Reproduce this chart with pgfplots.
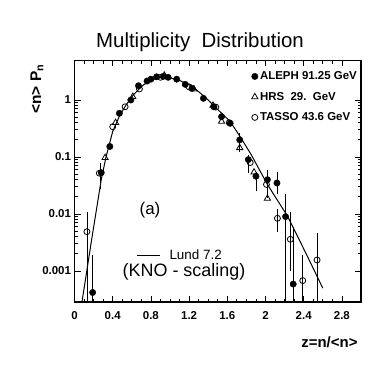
\documentclass[border=0pt]{standalone}
\usepackage{fontspec}
\setmainfont{Liberation Sans}
\usepackage{pgfplots}
\pgfplotsset{compat=1.18}

\begin{document}
\begin{tikzpicture}[x=1bp,y=1bp]
\path[use as bounding box] (0,0) rectangle (382,365);
\begin{axis}[
    at={(74.5bp,63bp)}, anchor=south west,
    scale only axis, width=286.5bp, height=241.5bp,
    ymode=log,
    xmin=0, xmax=3.0, ymin=2.86e-4, ymax=4.93,
    xtick={0,0.4,0.8,1.2,1.6,2,2.4,2.8},
    xticklabels={0,0.4,0.8,1.2,1.6,2,2.4,2.8},
    minor x tick num=3,
    ytick={0.001,0.01,0.1,1},
    yticklabels={0.001,0.01,0.1,1},
    tick align=inside,
    major tick length=6bp, minor tick length=3bp,
    xtick pos=both, ytick pos=both,
    every tick/.style={black, line width=0.8pt},
    axis line style={line width=1.3pt},
    tick label style={font=\bfseries\fontsize{11.5}{13}\selectfont},
    /pgf/number format/assume math mode=true,
    xticklabel style={yshift=-6bp},
    legend style={at={(rel axis cs:1,1)}, anchor=north east, draw=none, fill=none,
        font=\bfseries\fontsize{11.5}{13}\selectfont, row sep=7bp,
        xshift=-1bp, yshift=-8bp, inner sep=1bp},
    legend cell align=left,
    legend image code/.code={\draw[#1] plot coordinates {(0bp,0bp)};},
    clip=true,
]
% Lund 7.2 curve
\addplot[black, line width=1pt, forget plot] coordinates {
(0.08,0.0003)(0.18,0.0036)(0.28,0.04)(0.33,0.1)(0.40,0.28)(0.47,0.52)
(0.54,0.82)(0.62,1.25)(0.72,1.83)(0.82,2.3)(0.92,2.5)(1.0,2.45)(1.1,2.2)
(1.2,1.85)(1.3,1.4)(1.4,1.0)(1.5,0.68)(1.63,0.42)(1.74,0.22)(1.85,0.11)
(2.02,0.033)(2.23,0.0092)(2.42,0.0021)(2.6,0.0005)
};
% error bars
\addplot[black, line width=0.7pt, unbounded coords=jump, forget plot] coordinates {
(0.13,1e-4)(0.13,0.0107)(0.13,nan)
(0.19,1e-4)(0.19,0.0019)(0.19,nan)
(0.27,0.027)(0.27,0.08)(0.27,nan)
(1.73,0.12)(1.73,0.26)(1.73,nan)
(1.82,0.053)(1.82,0.11)(1.82,nan)
(1.90,0.025)(1.90,0.055)(1.90,nan)
(2.02,0.019)(2.02,0.06)(2.02,nan)
(2.12,0.022)(2.12,0.055)(2.12,nan)
(2.125,0.0048)(2.125,0.012)(2.125,nan)
(2.21,1e-4)(2.21,0.022)(2.21,nan)
(2.26,0.001)(2.26,0.011)(2.26,nan)
(2.29,1e-4)(2.29,0.0058)(2.29,nan)
(2.39,1e-4)(2.39,0.0019)(2.39,nan)
(2.54,1e-4)(2.54,0.0046)(2.54,nan)
};
% ALEPH
\addplot[only marks, mark=*, mark size=3.2bp, black] coordinates {
(0.19,0.00042)(0.28,0.053)(0.37,0.153)(0.47,0.585)(0.59,1.0)(0.67,1.78)
(0.76,2.15)(0.80,2.32)(0.86,2.55)(0.93,2.6)(0.98,2.5)(1.07,2.32)(1.16,1.88)
(1.23,1.6)(1.35,1.07)(1.46,0.76)(1.54,0.51)(1.63,0.39)(1.73,0.2)(1.82,0.09)
(1.90,0.046)(2.02,0.040)(2.12,0.035)(2.21,0.009)(2.29,0.00059)
};
\addlegendentry{ALEPH 91.25 GeV}
% HRS
\addplot[only marks, mark=triangle, mark size=3.6bp, black, mark options={fill=white, line width=0.8pt}] coordinates {
(0.32,0.097)(0.43,0.40)(0.61,1.14)(0.94,2.7)(1.25,1.55)(1.45,0.80)
(1.54,0.42)(1.73,0.145)(1.88,0.054)(2.02,0.0187)
};
\addlegendentry{HRS\ \ 29.\ \ GeV}
% TASSO
\addplot[only marks, mark=o, mark size=3bp, black, mark options={fill=white, line width=0.8pt}] coordinates {
(0.13,0.0049)(0.26,0.052)(0.40,0.34)(0.53,0.76)(0.68,1.56)(0.90,2.5)
(1.2,1.7)(1.48,0.75)(1.62,0.4)(1.84,0.08)(2.01,0.033)(2.125,0.0084)
(2.26,0.0036)(2.39,0.00068)(2.54,0.00156)
};
\addlegendentry{TASSO 43.6 GeV}
\end{axis}
% texts
\node[font=\fontsize{20.5}{22}\selectfont] at (200,323) {Multiplicity\ \ Distribution};
\node[rotate=90, font=\bfseries\fontsize{15.5}{17}\selectfont] at (37,276) {<n> P\textsubscript{n}};
\node[font=\fontsize{17}{19}\selectfont] at (150,155) {(a)};
\draw[line width=0.9pt] (137,110) -- (160,110);
\node[anchor=west, font=\fontsize{13.5}{15}\selectfont] at (166,110) {Lund 7.2};
\node[font=\fontsize{18}{20}\selectfont] at (184,93) {(KNO - scaling)};
\node[anchor=east, font=\bfseries\fontsize{15}{17}\selectfont] at (361,23) {z=n/<n>};
\end{tikzpicture}
\end{document}
